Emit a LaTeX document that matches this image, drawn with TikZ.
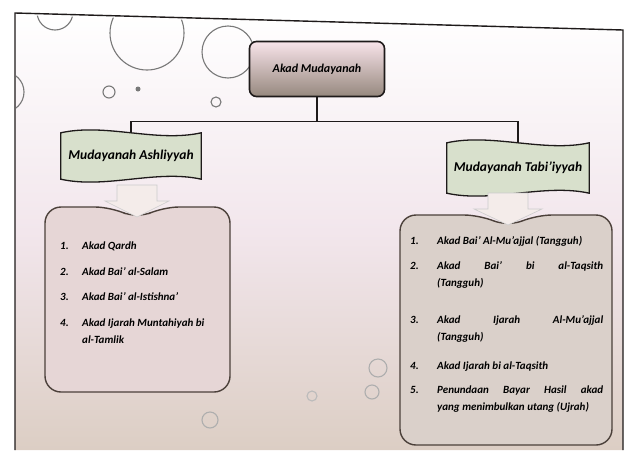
\documentclass[tikz,border=0pt]{standalone}
\usepackage{fontspec}
\setmainfont{Carlito}
\usetikzlibrary{calc,backgrounds}

\definecolor{ink}{RGB}{30,26,26}
\definecolor{boxline}{RGB}{75,64,58}
\definecolor{boxfillL}{RGB}{230,214,214}
\definecolor{boxfillR}{RGB}{218,208,202}
\definecolor{bannerfill}{RGB}{216,224,204}
\definecolor{titletop}{RGB}{248,228,234}
\definecolor{titlebot}{RGB}{150,136,126}
\definecolor{arrowfill}{RGB}{244,236,234}
\definecolor{bubble}{RGB}{120,120,120}
\definecolor{paperlow}{RGB}{220,206,196}
\definecolor{papermid}{RGB}{242,230,236}

\tikzset{
  titlebox/.style={draw=ink, line width=1.6pt, rounded corners=7pt,
    top color=titletop, bottom color=titlebot, minimum width=135pt,
    minimum height=55pt, font=\fontsize{12}{14}\selectfont\bfseries\itshape},
  headtext/.style={minimum width=140pt, minimum height=46pt, inner sep=0pt,
    font=\fontsize{13.5}{15}\selectfont\bfseries\itshape},
  banner/.style={draw=ink, line width=1.3pt, fill=bannerfill},
  listbox/.style={draw=boxline, line width=1.4pt, rounded corners=16pt},
  blockarrow/.style={fill=arrowfill, draw=white!80!black, line width=0.6pt},
  itemL/.style={anchor=north west, inner sep=0pt, text width=152pt, align=justify,
    font=\fontsize{11}{17}\selectfont\bfseries\itshape},
  itemR/.style={anchor=north west, inner sep=0pt, text width=193pt, align=justify,
    font=\fontsize{11}{17}\selectfont\bfseries\itshape},
  link/.style={draw=ink, line width=1.2pt},
  bub/.style={draw=bubble, line width=1.1pt},
}
% numbered entry with a hanging label
\newcommand{\entry}[3]{\hangindent=#1\hangafter=1\noindent\makebox[#1][l]{#2}\rule{0pt}{9pt}#3\par}

\begin{document}
\begin{tikzpicture}[x=1pt,y=-1pt]
\useasboundingbox (0,0) rectangle (628,450);

% sheet border
\draw[ink, line width=1.4pt] (15,450) -- (15,13) -- (623,30) -- (623,450);

% bubbles printed on the sheet
\begin{scope}
  \clip (16,15) -- (622,32) -- (622,450) -- (16,450) -- cycle;
  \draw[bub] (55,12) circle (18);
  \draw[bub] (147,33) circle (37);
  \draw[bub] (228,52) circle (26);
  \draw[bub] (4,92) circle (20);
  \draw[bub] (109,92) circle (6);
  \fill[bubble] (138,89) circle (2.5);
  \draw[bub] (216,102) circle (5);
  \draw[bub, bubble!60] (378,368) circle (9);
  \draw[bub, bubble!60] (372,392) circle (7);
  \draw[bub, bubble!60] (210,420) circle (8);
  \draw[bub, bubble!50] (312,396) circle (5);
\end{scope}

% top concept
\node[titlebox] (akad) at (317,69) {Akad Mudayanah};

% the two branches
\node[headtext] (hl) at (131,156) {Mudayanah Ashliyyah};
\node[headtext, minimum width=142pt, minimum height=50pt] (hr) at (518,168) {Mudayanah Tabi'iyyah};

\begin{scope}[on background layer]
  \path[top color=white, bottom color=paperlow, middle color=papermid]
    (15,13) -- (623,30) -- (623,450) -- (15,450) -- cycle;
  \path[banner]
    (hl.north west) .. controls +(45,-10) and +(-45,10) .. (hl.north east)
    -- (hl.south east) .. controls +(-45,-10) and +(45,10) .. (hl.south west) -- cycle;
  \path[banner]
    (hr.north west) .. controls +(45,-10) and +(-45,10) .. (hr.north east)
    -- (hr.south east) .. controls +(-45,-10) and +(45,10) .. (hr.south west) -- cycle;
\end{scope}

\coordinate (split) at ($(akad.south)+(0,24)$);
\draw[link] (akad.south) -- (split);
\draw[link] (hl.north) |- (split) -| (hr.north);

% left list
\coordinate (bl) at (137,207);
\path[listbox, fill=boxfillL]
  ($(bl)+(-92,0)$) -- ($(bl)+(-26,0)$) -- ($(bl)+(0,12)$) -- ($(bl)+(26,0)$)
  -- ($(bl)+(93,0)$) -- ($(bl)+(93,185)$) -- ($(bl)+(-92,185)$) -- cycle;
\path[blockarrow]
  ($(bl)+(-20,-22)$) -- ($(bl)+(20,-22)$) -- ($(bl)+(20,-6)$)
  -- ($(bl)+(32,-6)$) -- ($(bl)+(0,10)$) -- ($(bl)+(-32,-6)$)
  -- ($(bl)+(-20,-6)$) -- cycle;

\node[itemL] (l1) at (60,240) {\entry{22pt}{1.}{Akad Qardh}};
\node[itemL] (l2) at (60,266) {\entry{22pt}{2.}{Akad Bai' al-Salam}};
\node[itemL] (l3) at (60,291) {\entry{22pt}{3.}{Akad Bai' al-Istishna'}};
\node[itemL] (l4) at (60,317) {\entry{22pt}{4.}{Akad Ijarah Muntahiyah bi\newline al-Tamlik}};

% right list
\coordinate (br) at (508,215);
\path[listbox, fill=boxfillR]
  ($(br)+(-108,0)$) -- ($(br)+(-28,0)$) -- ($(br)+(0,12)$) -- ($(br)+(28,0)$)
  -- ($(br)+(104,0)$) -- ($(br)+(104,230)$) -- ($(br)+(-108,230)$) -- cycle;
\path[blockarrow]
  ($(br)+(-20,-22)$) -- ($(br)+(20,-22)$) -- ($(br)+(20,-6)$)
  -- ($(br)+(34,-6)$) -- ($(br)+(0,10)$) -- ($(br)+(-34,-6)$)
  -- ($(br)+(-20,-6)$) -- cycle;

\node[itemR] (r1) at (410,235) {\entry{27pt}{1.}{Akad Bai' Al-Mu'ajjal (Tangguh)}};
\node[itemR] (r2) at (410,260) {\entry{27pt}{2.}{Akad Bai' bi al-Taqsith\linebreak(Tangguh)}};
\node[itemR] (r3) at (410,314) {\entry{27pt}{3.}{Akad Ijarah Al-Mu'ajjal\linebreak(Tangguh)}};
\node[itemR] (r4) at (410,360) {\entry{27pt}{4.}{Akad Ijarah bi al-Taqsith}};
\node[itemR] (r5) at (410,384) {\entry{27pt}{5.}{Penundaan Bayar Hasil akad\linebreak yang menimbulkan utang (Ujrah)}};
\end{tikzpicture}
\end{document}
